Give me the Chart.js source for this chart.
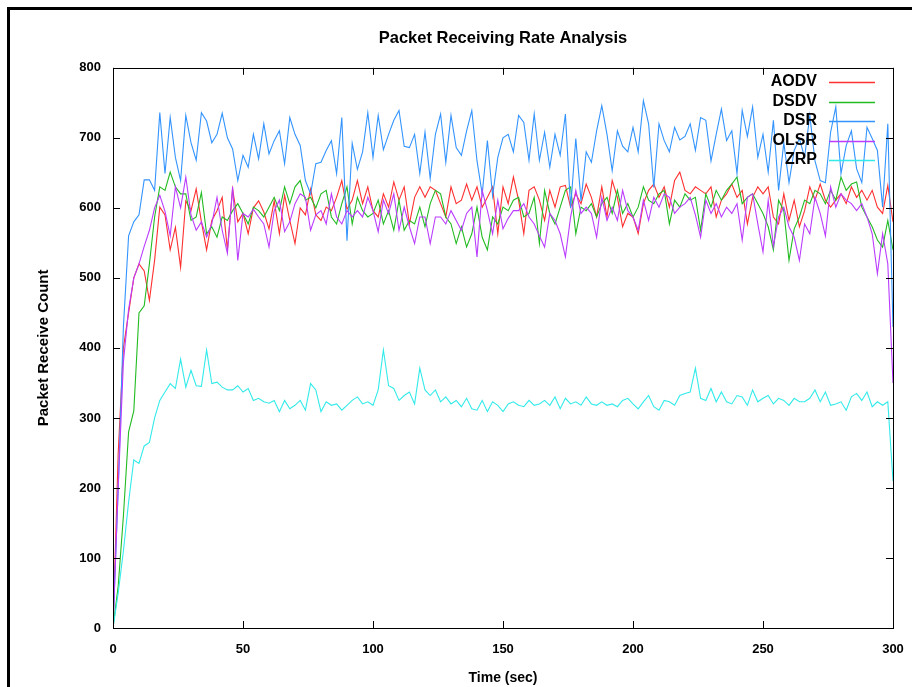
<!DOCTYPE html>
<html>
<head>
<meta charset="utf-8">
<title>Packet Receiving Rate Analysis</title>
<script src="https://cdn.jsdelivr.net/npm/chart.js@4.4.1/dist/chart.umd.min.js"></script>
<style>
  html, body { margin: 0; padding: 0; background: #fff; }
  #wrap { position: relative; width: 912px; height: 687px; overflow: hidden; }
  #frame { position: absolute; left: 7px; top: 7px; width: 960px; height: 740px;
           border: 3px solid #000; box-sizing: border-box; pointer-events: none; }
  canvas { position: absolute; left: 0; top: 0; }
</style>
</head>
<body>
<div id="wrap">
  <canvas id="rateChart" width="912" height="687"></canvas>
  <div id="frame"></div>
</div>
<script>
// samples every 2 seconds, t = 0 .. 300
const STEP = 2;

const aodv = [
  0, 250, 400, 450, 500, 520, 510, 468, 525, 601, 590, 540, 572, 515, 610, 596, 627, 580, 540, 582,
  596, 615, 540, 627, 580, 592, 563, 600, 610, 594, 570, 610, 563, 618, 582, 549, 600, 590, 627, 590,
  582, 601, 596, 615, 639, 598, 611, 639, 606, 630, 596, 587, 620, 601, 637, 611, 630, 577, 615, 630,
  615, 630, 625, 606, 587, 630, 606, 611, 634, 611, 630, 601, 615, 630, 563, 630,
  606, 644, 611, 563, 625, 630, 611, 582, 625, 601, 630, 632, 601, 620, 606, 634, 615, 587, 630, 587,
  639, 615, 573, 592, 587, 563, 606, 625, 634, 615, 630, 601, 639, 651, 625, 620, 630, 625,
  620, 630, 587, 611, 620, 634, 615, 625, 577, 615, 630, 620, 630, 587, 577, 620, 582, 611, 573, 596,
  630, 611, 634, 611, 601, 611, 620, 606, 630, 615, 625, 611, 625, 601, 592, 632, 580
];

const dsdv = [
  0, 60, 160, 280, 310, 450, 460, 520, 587, 630, 625, 651, 630, 620, 620, 582, 587, 622, 563, 573,
  558, 587, 582, 596, 606, 592, 577, 601, 596, 587, 601, 615, 596, 630, 606, 630, 639, 611, 615, 600,
  620, 625, 587, 577, 606, 630, 577, 615, 596, 587, 592, 611, 577, 596, 568, 611, 568, 582, 577, 601,
  573, 606, 625, 620, 587, 577, 549, 573, 544, 563, 601, 558, 540, 587, 577, 601,
  596, 611, 615, 587, 592, 615, 549, 625, 592, 577, 601, 625, 630, 563, 601, 596, 606, 587, 606, 615,
  592, 625, 592, 606, 587, 601, 630, 611, 606, 620, 625, 577, 611, 601, 620, 611, 615, 568,
  620, 601, 625, 611, 625, 634, 644, 606, 615, 620, 606, 592, 573, 540, 611, 596, 525, 570, 587, 611,
  606, 625, 620, 606, 625, 611, 644, 625, 634, 637, 601, 587, 573, 554, 544, 582, 540
];

const dsr = [
  0, 200, 430, 560, 580, 590, 640, 640, 625, 736, 649, 729, 672, 639, 732, 693, 668, 736, 724, 693,
  705, 735, 700, 684, 639, 675, 658, 705, 670, 720, 677, 696, 710, 663, 729, 705, 689, 639, 620, 663,
  665, 682, 696, 649, 729, 553, 692, 655, 680, 736, 672, 732, 683, 705, 725, 739, 688, 686, 705, 649,
  708, 642, 705, 734, 665, 732, 686, 675, 710, 739, 667, 620, 696, 617, 672, 700,
  705, 680, 732, 722, 668, 734, 668, 708, 658, 705, 675, 734, 600, 699, 610, 680, 665, 710, 746, 705,
  653, 710, 688, 680, 715, 680, 753, 720, 629, 720, 696, 680, 715, 697, 702, 720, 682, 729,
  725, 667, 705, 741, 696, 710, 649, 739, 702, 744, 672, 705, 651, 725, 625, 693, 636, 682, 699, 672,
  732, 667, 639, 636, 708, 744, 649, 689, 710, 656, 636, 715, 699, 682, 601, 720, 430
];

const olsr = [
  0, 200, 380, 455, 500, 520, 545, 568, 600, 618, 595, 560, 630, 600, 644, 590, 568, 580, 558, 577,
  615, 568, 535, 630, 525, 592, 587, 598, 587, 577, 544, 596, 611, 566, 580, 606, 620, 615, 568, 590,
  596, 577, 620, 587, 577, 596, 587, 596, 587, 615, 596, 566, 611, 592, 620, 568, 601, 573, 549, 587,
  587, 549, 587, 587, 577, 596, 582, 568, 592, 601, 530, 625, 596, 563, 611, 570,
  585, 596, 596, 606, 587, 577, 560, 544, 592, 582, 563, 530, 587, 625, 592, 601, 592, 558, 615, 582,
  601, 582, 625, 596, 587, 568, 611, 582, 615, 601, 620, 615, 592, 601, 606, 615, 590, 558,
  611, 592, 606, 587, 601, 592, 606, 554, 615, 620, 577, 537, 611, 545, 587, 601, 573, 558, 525, 577,
  563, 615, 592, 560, 630, 601, 620, 611, 606, 596, 606, 587, 563, 506, 563, 520, 350
];

const zrp = [
  0, 50, 110, 180, 240, 235, 260, 265, 300, 325, 337, 349, 342, 384, 344, 368, 346, 345, 397, 349,
  351, 344, 340, 340, 346, 337, 342, 325, 328, 323, 321, 325, 309, 325, 313, 318, 325, 311, 349, 340,
  309, 323, 318, 320, 311, 318, 325, 330, 320, 323, 318, 340, 397, 346, 342, 325, 332, 337, 320, 371,
  340, 332, 340, 323, 330, 320, 325, 316, 328, 313, 311, 325, 309, 323, 318, 309,
  320, 323, 318, 316, 325, 318, 320, 325, 318, 330, 313, 328, 320, 323, 318, 330, 320, 318, 323, 318,
  320, 316, 325, 328, 320, 313, 323, 332, 316, 311, 325, 323, 318, 332, 335, 337, 371, 328,
  325, 342, 323, 337, 323, 320, 332, 330, 318, 340, 323, 328, 332, 320, 328, 325, 318, 328, 323, 323,
  328, 340, 323, 337, 318, 320, 323, 311, 330, 335, 325, 337, 316, 323, 318, 323, 210
];

const times = aodv.map((_, i) => i * STEP);

const series = [
  { label: 'AODV', values: aodv, color: '#ff3030' },
  { label: 'DSDV', values: dsdv, color: '#22bb22' },
  { label: 'DSR',  values: dsr,  color: '#3394ff' },
  { label: 'OLSR', values: olsr, color: '#bb3cff' },
  { label: 'ZRP',  values: zrp,  color: '#33eaea' }
];

const FONT = 'Liberation Sans, Arial, Helvetica, sans-serif';

// gnuplot look: full border, inward ticks, key at top right
const gnuplotFrame = {
  id: 'gnuplotFrame',
  afterDatasetsDraw(chart) {
    const { ctx, chartArea: a, scales: { x, y } } = chart;
    ctx.save();
    ctx.strokeStyle = '#000';
    ctx.lineWidth = 1;
    ctx.strokeRect(Math.round(a.left) + 0.5, Math.round(a.top) + 0.5,
                   Math.round(a.right - a.left), Math.round(a.bottom - a.top));
    ctx.beginPath();
    x.ticks.forEach(t => {
      const px = Math.round(x.getPixelForValue(t.value)) + 0.5;
      ctx.moveTo(px, a.bottom); ctx.lineTo(px, a.bottom - 7);
      ctx.moveTo(px, a.top); ctx.lineTo(px, a.top + 7);
    });
    y.ticks.forEach(t => {
      const py = Math.round(y.getPixelForValue(t.value)) + 0.5;
      ctx.moveTo(a.left, py); ctx.lineTo(a.left + 7, py);
      ctx.moveTo(a.right, py); ctx.lineTo(a.right - 7, py);
    });
    ctx.stroke();

    ctx.font = 'bold 16px ' + FONT;
    ctx.textAlign = 'right';
    ctx.textBaseline = 'middle';
    series.forEach((s, i) => {
      const ly = 82 + i * 19.5;
      ctx.fillStyle = '#000';
      ctx.fillText(s.label, 817, ly);
      ctx.beginPath();
      ctx.strokeStyle = s.color;
      ctx.lineWidth = 1.3;
      ctx.moveTo(829, Math.round(ly) + 0.5);
      ctx.lineTo(875, Math.round(ly) + 0.5);
      ctx.stroke();
    });
    ctx.restore();
  }
};

new Chart(document.getElementById('rateChart'), {
  type: 'line',
  data: {
    datasets: series.map((s, i) => ({
      label: s.label,
      data: s.values.map((v, k) => ({ x: times[k], y: v })),
      borderColor: s.color,
      backgroundColor: s.color,
      borderWidth: 1.1,
      pointRadius: 0,
      tension: 0,
      order: series.length - i
    }))
  },
  options: {
    responsive: false,
    animation: false,
    events: [],
    layout: { padding: { left: 0, right: 19, top: 0, bottom: 0 } },
    plugins: {
      legend: { display: false },
      tooltip: { enabled: false },
      title: {
        display: true,
        fullSize: false,
        text: 'Packet Receiving Rate Analysis',
        color: '#000',
        font: { family: FONT, size: 16.5, weight: 'bold' },
        padding: { top: 29, bottom: 19 }
      }
    },
    scales: {
      x: {
        type: 'linear',
        min: 0,
        max: 300,
        afterFit: s => { s.height = 59; s.paddingLeft = 0; s.paddingRight = 0; },
        ticks: { stepSize: 50, padding: 14, maxRotation: 0, color: '#000',
                 font: { family: FONT, size: 13, weight: 'bold' } },
        grid: { display: false, drawTicks: false },
        border: { display: false },
        title: { display: true, text: 'Time (sec)', color: '#000',
                 font: { family: FONT, size: 14, weight: 'bold' },
                 padding: { top: 0, bottom: 0 } }
      },
      y: {
        min: 0,
        max: 800,
        afterFit: s => { s.width = 113; s.paddingTop = 0; s.paddingBottom = 0; },
        ticks: { stepSize: 100, padding: 12, color: '#000',
                 font: { family: FONT, size: 13, weight: 'bold' } },
        grid: { display: false, drawTicks: false },
        border: { display: false },
        title: { display: true, text: 'Packet Receive Count', color: '#000',
                 font: { family: FONT, size: 15, weight: 'bold' },
                 padding: { top: 35, bottom: 0 } }
      }
    }
  },
  plugins: [gnuplotFrame]
});
</script>
</body>
</html>
